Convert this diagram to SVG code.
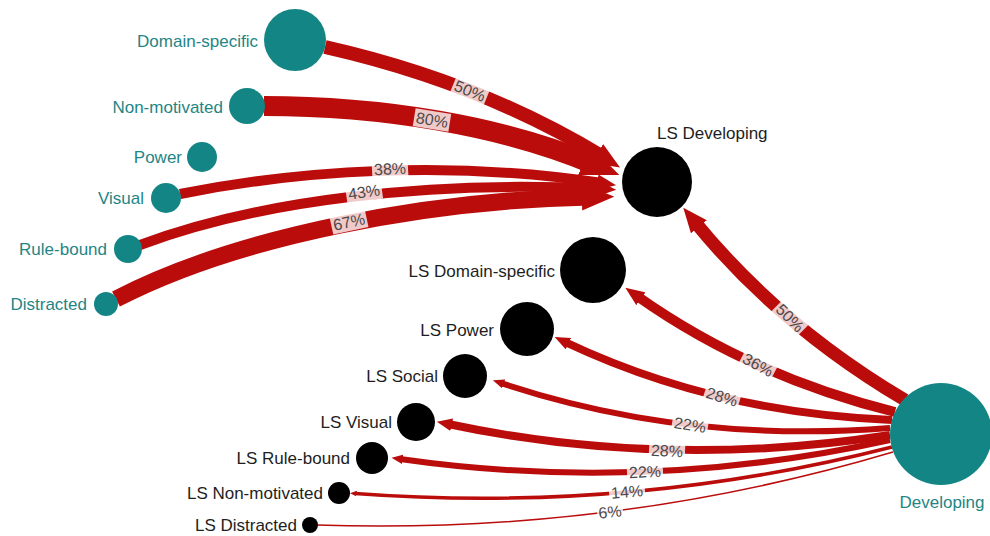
<svg xmlns="http://www.w3.org/2000/svg" width="990" height="536" viewBox="0 0 990 536">
<style>
.e{fill:none;stroke:#bb0c0c;stroke-linecap:butt}
.a{marker-end:url(#arr)}
.src{fill:#138584}
.dst{fill:#000}
.tl{font-family:"Liberation Sans",Arial,sans-serif;font-size:17px;fill:#1f8585}
.bl{font-family:"Liberation Sans",Arial,sans-serif;font-size:17px;fill:#1e1e1e}
.pl rect{fill:#fff;fill-opacity:0.78}
.pl text{font-family:"Liberation Sans",Arial,sans-serif;font-size:16px;fill:#4a4a4a;text-anchor:middle}
</style>
<defs>
<marker id="arr" viewBox="0 0 12 10" refX="3" refY="5" markerWidth="1.9" markerHeight="1.6" orient="auto">
<path d="M0,0 L12,5 L0,10 z" fill="#bb0c0c"/>
</marker>
</defs>
<rect width="990" height="536" fill="#fff"/>
<g id="connectors">
<path class="e a" stroke-width="14" d="M 325 47 Q 480 82 603 157"/>
<path class="e a" stroke-width="20" d="M 264 106 C 380 106 500 125 593 164"/>
<path class="e a" stroke-width="10" d="M 180 194 C 300 170 450 160 602 183"/>
<path class="e a" stroke-width="10" d="M 140 245 C 260 200 430 180 602 189"/>
<path class="e a" stroke-width="17" d="M 116 299 C 240 235 430 200 590 197"/>
<path class="e a" stroke-width="13" d="M 905 400 Q 780 326 695 222"/>
<path class="e a" stroke-width="10" d="M 895 412 Q 750 376 637 296"/>
<path class="e a" stroke-width="8" d="M 892 420 Q 715 413 565 342"/>
<path class="e a" stroke-width="6" d="M 890 428 Q 684 444 501 383"/>
<path class="e a" stroke-width="8" d="M 890 435 Q 665 470 448 424"/>
<path class="e a" stroke-width="6" d="M 890 440 Q 645 494 400 459"/>
<path class="e a" stroke-width="3.5" d="M 892 447 Q 630 514 355 493.5"/>
<path class="e" stroke-width="1.5" d="M 893 452 Q 614 535 316 525"/>
<g class="pl">
<g transform="translate(470,91) rotate(22)"><rect x="-18" y="-9" width="36" height="18"/><text y="5.5">50%</text></g>
<g transform="translate(432,120) rotate(9)"><rect x="-18" y="-9" width="36" height="18"/><text y="5.5">80%</text></g>
<g transform="translate(390,169) rotate(-3)"><rect x="-18" y="-9" width="36" height="18"/><text y="5.5">38%</text></g>
<g transform="translate(364,192) rotate(-8)"><rect x="-18" y="-9" width="36" height="18"/><text y="5.5">43%</text></g>
<g transform="translate(349,222) rotate(-12)"><rect x="-18" y="-9" width="36" height="18"/><text y="5.5">67%</text></g>
<g transform="translate(790,318) rotate(45)"><rect x="-18" y="-9" width="36" height="18"/><text y="5.5">50%</text></g>
<g transform="translate(758,365) rotate(28)"><rect x="-18" y="-9" width="36" height="18"/><text y="5.5">36%</text></g>
<g transform="translate(722,397) rotate(17)"><rect x="-18" y="-9" width="36" height="18"/><text y="5.5">28%</text></g>
<g transform="translate(690,425) rotate(9)"><rect x="-18" y="-9" width="36" height="18"/><text y="5.5">22%</text></g>
<g transform="translate(667,451) rotate(3)"><rect x="-18" y="-9" width="36" height="18"/><text y="5.5">28%</text></g>
<g transform="translate(645,472) rotate(-3)"><rect x="-18" y="-9" width="36" height="18"/><text y="5.5">22%</text></g>
<g transform="translate(627,492) rotate(-5)"><rect x="-18" y="-9" width="36" height="18"/><text y="5.5">14%</text></g>
<g transform="translate(610,512) rotate(-6)"><rect x="-13" y="-9" width="26" height="18"/><text y="5.5">6%</text></g>
</g>
</g>
<g id="n-domain-specific"><circle class="src" cx="295" cy="40" r="31"/><text class="tl" x="258" y="47" text-anchor="end">Domain-specific</text></g>
<g id="n-non-motivated"><circle class="src" cx="247" cy="106" r="18"/><text class="tl" x="223" y="112.5" text-anchor="end">Non-motivated</text></g>
<g id="n-power"><circle class="src" cx="202" cy="157" r="15"/><text class="tl" x="182" y="163" text-anchor="end">Power</text></g>
<g id="n-visual"><circle class="src" cx="166" cy="198" r="15"/><text class="tl" x="144" y="204" text-anchor="end">Visual</text></g>
<g id="n-rule-bound"><circle class="src" cx="128" cy="249" r="14"/><text class="tl" x="107" y="255" text-anchor="end">Rule-bound</text></g>
<g id="n-distracted"><circle class="src" cx="106" cy="304" r="12"/><text class="tl" x="87" y="310" text-anchor="end">Distracted</text></g>
<g id="n-developing"><circle class="src" cx="941" cy="434" r="51"/><text class="tl" x="942" y="508" text-anchor="middle">Developing</text></g>
<g id="n-ls-developing"><circle class="dst" cx="657" cy="182" r="35"/><text class="bl" x="657" y="139">LS Developing</text></g>
<g id="n-ls-domain-specific"><circle class="dst" cx="593" cy="270" r="33"/><text class="bl" x="555" y="277" text-anchor="end">LS Domain-specific</text></g>
<g id="n-ls-power"><circle class="dst" cx="527" cy="329" r="27"/><text class="bl" x="494" y="336" text-anchor="end">LS Power</text></g>
<g id="n-ls-social"><circle class="dst" cx="465" cy="376" r="22"/><text class="bl" x="438" y="382" text-anchor="end">LS Social</text></g>
<g id="n-ls-visual"><circle class="dst" cx="416" cy="422" r="19"/><text class="bl" x="392" y="428" text-anchor="end">LS Visual</text></g>
<g id="n-ls-rule-bound"><circle class="dst" cx="372" cy="458" r="16"/><text class="bl" x="350" y="464" text-anchor="end">LS Rule-bound</text></g>
<g id="n-ls-non-motivated"><circle class="dst" cx="339" cy="493" r="11"/><text class="bl" x="323" y="499" text-anchor="end">LS Non-motivated</text></g>
<g id="n-ls-distracted"><circle class="dst" cx="310" cy="525" r="8"/><text class="bl" x="297" y="531" text-anchor="end">LS Distracted</text></g>
</svg>
